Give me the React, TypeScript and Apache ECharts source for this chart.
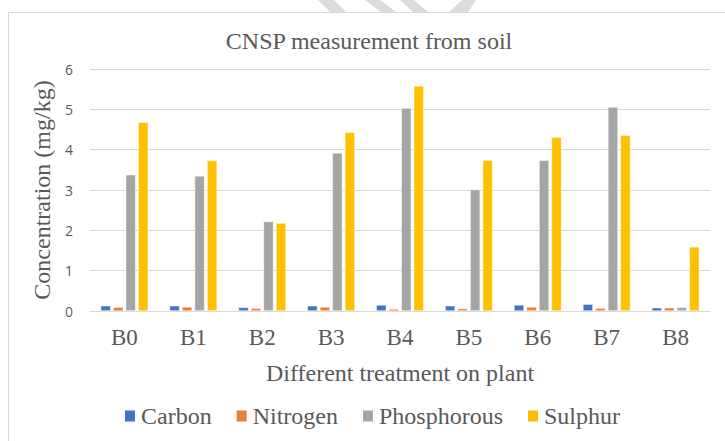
import React, { useEffect, useRef } from "react";
import * as echarts from "echarts";

const categories = ["B0", "B1", "B2", "B3", "B4", "B5", "B6", "B7", "B8"];
const carbon = [0.13, 0.13, 0.09, 0.13, 0.15, 0.13, 0.15, 0.17, 0.08];
const nitrogen = [0.09, 0.1, 0.07, 0.1, 0.05, 0.06, 0.1, 0.07, 0.08];
const phosphorous = [3.38, 3.35, 2.22, 3.92, 5.03, 3.01, 3.74, 5.06, 0.09];
const sulphur = [4.68, 3.73, 2.18, 4.43, 5.58, 3.74, 4.31, 4.36, 1.59];
const seriesNames = ["Carbon", "Nitrogen", "Phosphorous", "Sulphur"];
const seriesColors = ["#4472C4", "#ED7D31", "#A5A5A5", "#FFC000"];

const serif = "Liberation Serif";

export default function App() {
  const ref = useRef<HTMLDivElement>(null);
  useEffect(() => {
    if (!ref.current) return;
    const chart = echarts.init(ref.current, null, { renderer: "svg" });
    const data = [carbon, nitrogen, phosphorous, sulphur];
    chart.setOption({
      animation: false,
      backgroundColor: "#ffffff",
      graphic: [
        { type: "polygon", z: -10, shape: { points: [[318, 0], [334, 0], [346, 12], [330, 12]] }, style: { fill: "#dcdcdc" } },
        { type: "polygon", z: -10, shape: { points: [[365, 0], [380, 0], [396, 12], [381, 12]] }, style: { fill: "#dcdcdc" } },
        { type: "polygon", z: -10, shape: { points: [[400, 0], [414, 0], [428, 12], [413, 12]] }, style: { fill: "#dcdcdc" } },
        { type: "polygon", z: -10, shape: { points: [[462, 0], [476, 0], [468, 12], [449, 12]] }, style: { fill: "#dcdcdc" } },
        { type: "rect", z: -5, shape: { x: 8.5, y: 12.5, width: 800, height: 600 }, style: { fill: "#ffffff", stroke: "#d9d9d9", lineWidth: 1 } },
      ],
      title: {
        text: "CNSP measurement from soil",
        left: 369,
        top: 29,
        padding: 0,
        textAlign: "center",
        textStyle: { fontFamily: serif, fontSize: 24, fontWeight: "normal", color: "#595959" },
      },
      legend: {
        data: seriesNames,
        left: 123,
        top: 404,
        padding: 0,
        itemWidth: 12,
        itemHeight: 13,
        itemGap: 23,
        icon: "rect",
        textStyle: { fontFamily: serif, fontSize: 24, color: "#595959" },
      },
      grid: { left: 90, right: 15, top: 69, bottom: 130, containLabel: false },
      xAxis: {
        type: "category",
        data: categories,
        name: "Different treatment on plant",
        nameLocation: "middle",
        nameGap: 50,
        nameTextStyle: { fontFamily: serif, fontSize: 24, color: "#595959" },
        axisLine: { lineStyle: { color: "#d9d9d9", width: 1 } },
        axisTick: { show: false },
        axisLabel: { fontFamily: serif, fontSize: 23, color: "#595959", margin: 15 },
      },
      yAxis: {
        type: "value",
        min: 0,
        max: 6,
        interval: 1,
        name: "Concentration (mg/kg)",
        nameLocation: "middle",
        nameRotate: 90,
        nameGap: 33,
        nameTextStyle: { fontFamily: serif, fontSize: 24, color: "#595959" },
        axisLine: { show: false },
        axisTick: { show: false },
        axisLabel: { fontFamily: "Open Sans", fontSize: 14, color: "#595959", margin: 17 },
        splitLine: { lineStyle: { color: "#d9d9d9", width: 1 } },
      },
      series: seriesNames.map((name, i) => ({
        name,
        type: "bar",
        data: data[i],
        barGap: "25%",
        barCategoryGap: "31%",
        itemStyle: { color: seriesColors[i], borderColor: "#ffffff", borderWidth: 0.5 },
      })),
    });
    return () => chart.dispose();
  }, []);
  return (
    <div
      ref={ref}
      style={{ position: "fixed", left: 0, top: 0, width: 725, height: 441 }}
    />
  );
}
